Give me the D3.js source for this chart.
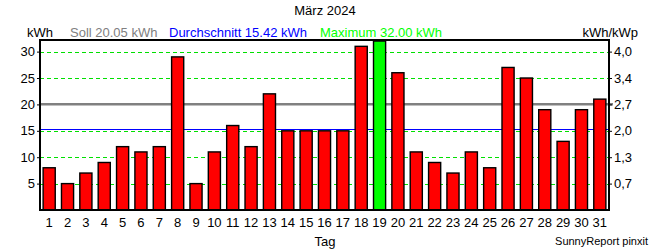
<!DOCTYPE html>
<html><head><meta charset="utf-8">
<script src="https://cdn.jsdelivr.net/npm/d3@7"></script>
<style>body{margin:0;background:#fff}svg{display:block;font-family:"Liberation Sans",Arial,sans-serif}</style>
</head><body><svg id="c" width="650" height="250"></svg>
<script>
const days = d3.range(1, 32).map(String);
const values = [8,5,7,9,12,11,12,29,5,11,16,12,22,15,15,15,15,31,32,26,11,9,7,11,8,27,25,19,13,19,21];
const leftTicks = [5,10,15,20,25,30];
const rightTickLabels = ["0,7","1,3","2,0","2,7","3,4","4,0"];
const soll = 20.05, avg = 15.42, maxVal = 32.00;
const title = "März 2024";

const svg = d3.select("#c");
const L = 40, R = 609, T = 40, B = 210;
const x = d3.scaleBand().domain(days).range([L, R]).paddingInner(0.34).paddingOuter(0.17);
const y = d3.scaleLinear().domain([0, 32.2]).range([B, T]);

// grid
svg.append("g").selectAll("line").data(leftTicks).join("line")
  .attr("x1", L).attr("x2", R).attr("y1", d => Math.round(y(d)) + 0.5).attr("y2", d => Math.round(y(d)) + 0.5)
  .attr("stroke", "#00e000").attr("stroke-dasharray", "4,3").attr("stroke-width", 1);

// soll and avg lines
svg.append("line").attr("x1", L).attr("x2", R + 4).attr("y1", y(soll)).attr("y2", y(soll))
  .attr("stroke", "#808080").attr("stroke-width", 2.5);
svg.append("line").attr("x1", L).attr("x2", R).attr("y1", Math.round(y(avg)) + 0.5).attr("y2", Math.round(y(avg)) + 0.5)
  .attr("stroke", "#0000ff").attr("stroke-width", 1);

// bars
svg.append("g").selectAll("rect").data(values).join("rect")
  .attr("x", (d, i) => x(days[i]))
  .attr("width", x.bandwidth())
  .attr("y", d => Math.max(T, y(d)))
  .attr("height", d => B - Math.max(T, y(d)))
  .attr("fill", d => d === maxVal ? "#00ff00" : "#ff0000")
  .attr("stroke", "#000").attr("stroke-width", 1.4);

// frame
svg.append("rect").attr("x", L).attr("y", T).attr("width", R - L).attr("height", B - T)
  .attr("fill", "none").attr("stroke", "#000").attr("stroke-width", 2);

// left axis
const gl = svg.append("g").attr("transform", `translate(${L},0)`)
  .call(d3.axisLeft(y).tickValues(leftTicks).tickSize(3).tickPadding(2).tickFormat(d3.format("d")));
gl.select(".domain").remove();
gl.selectAll("text").attr("font-size", 13).attr("fill", "#000").attr("font-family", "Liberation Sans, Arial, sans-serif");

// right axis
const gr = svg.append("g").attr("transform", `translate(${R},0)`)
  .call(d3.axisRight(y).tickValues(leftTicks).tickSize(3).tickPadding(2).tickFormat((d, i) => rightTickLabels[i]));
gr.select(".domain").remove();
gr.selectAll("text").attr("font-size", 13).attr("fill", "#000").attr("font-family", "Liberation Sans, Arial, sans-serif");

// x axis
const gx = svg.append("g").attr("transform", `translate(0,${B})`)
  .call(d3.axisBottom(x).tickSize(0).tickPadding(8));
gx.select(".domain").remove();
gx.selectAll("text").attr("font-size", 13).attr("fill", "#000").attr("font-family", "Liberation Sans, Arial, sans-serif");

// texts
const txt = (s, xx, yy, col, anchor, size) => svg.append("text").attr("x", xx).attr("y", yy)
  .attr("fill", col).attr("text-anchor", anchor || "start").attr("font-size", size || 13).text(s);
txt(title, 325, 15, "#000", "middle");
txt("kWh", 27, 37, "#000");
txt("Soll " + soll.toFixed(2) + " kWh", 70, 37, "#808080");
txt("Durchschnitt " + avg.toFixed(2) + " kWh", 169, 37, "#0000ff");
txt("Maximum " + maxVal.toFixed(2) + " kWh", 320, 37, "#00ff00");
txt("kWh/kWp", 638, 37, "#000", "end");
txt("Tag", 325, 246, "#000", "middle");
txt("SunnyReport pinxit", 648, 245, "#000", "end", 11);
</script></body></html>
